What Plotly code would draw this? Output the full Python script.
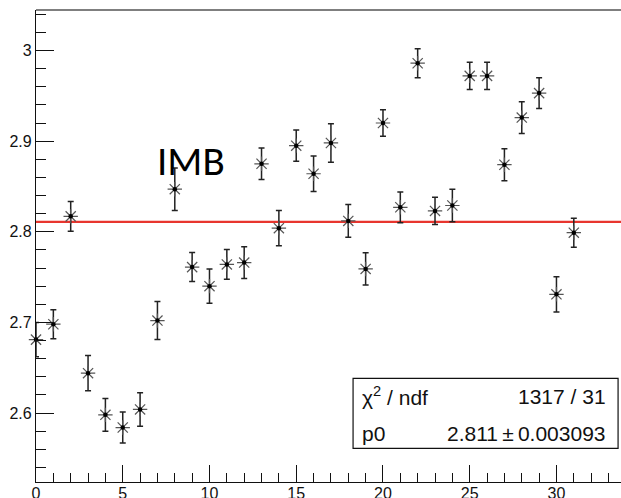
import plotly.graph_objects as go

# Data
x_vals = list(range(32))
y_vals = [2.681, 2.698, 2.817, 2.644, 2.598, 2.584, 2.604, 2.702, 2.847, 2.761,
          2.740, 2.764, 2.766, 2.875, 2.804, 2.895, 2.864, 2.898, 2.812, 2.759,
          2.920, 2.827, 2.986, 2.823, 2.829, 2.972, 2.972, 2.874, 2.926, 2.953,
          2.731, 2.799]
y_errs = [0.019, 0.016, 0.0165, 0.0195, 0.018, 0.017, 0.0185, 0.021, 0.0234, 0.016,
          0.019, 0.0165, 0.0175, 0.0173, 0.0195, 0.0173, 0.0195, 0.0213, 0.018, 0.0178,
          0.0145, 0.017, 0.016, 0.015, 0.018, 0.015, 0.015, 0.0176, 0.0175, 0.017,
          0.0195, 0.016]
fit_p0 = 2.811
fit_p0_err = 0.003093
chi2_text = "1317 / 31"
label_text = "IMB"

x_range = [0, 33.72]
y_range = [2.5239, 3.0447]

SANS = "Liberation Sans Narrow, Arial Narrow, Liberation Sans, Arial, sans-serif"

fig = go.Figure()

# fit line
fig.add_trace(go.Scatter(
    x=x_range, y=[fit_p0, fit_p0], mode="lines",
    line=dict(color="#e8352e", width=2.2), hoverinfo="skip", showlegend=False,
))

# data points with error bars (asterisk)
fig.add_trace(go.Scatter(
    x=x_vals, y=y_vals, mode="markers",
    marker=dict(symbol="asterisk-open", size=12, color="#555555",
                line=dict(color="#555555", width=1.2)),
    error_y=dict(type="data", array=y_errs, visible=True, color="#222222",
                 thickness=1.5, width=3),
    cliponaxis=False, showlegend=False,
))
# center dots
fig.add_trace(go.Scatter(
    x=x_vals, y=y_vals, mode="markers",
    marker=dict(symbol="circle", size=4.5, color="#000000"),
    cliponaxis=False, showlegend=False,
))

axis_common = dict(
    showgrid=False, zeroline=False, showline=True, linecolor="#111111", linewidth=1.2,
    ticks="inside", tickcolor="#111111", tickwidth=1.2, automargin=False,
    tickfont=dict(family=SANS, size=16, color="#111111"),
)

fig.update_xaxes(range=x_range, tick0=0, dtick=5, ticklen=17, ticklabelstandoff=-3,
                 minor=dict(ticks="inside", dtick=1, ticklen=9, tickcolor="#111111", tickwidth=1.2),
                 **axis_common)
fig.update_yaxes(range=y_range, tick0=2.6, dtick=0.1, ticklen=18,
                 minor=dict(ticks="inside", dtick=0.02, ticklen=10, tickcolor="#111111", tickwidth=1.2),
                 **axis_common)

shapes = [
    # top frame line
    dict(type="line", xref="paper", yref="paper", x0=0, x1=1, y0=1, y1=1,
         line=dict(color="#555555", width=1.5)),
    # stats box
    dict(type="rect", xref="paper", yref="paper", x0=0.542, x1=0.995, y0=0.0714, y1=0.2196,
         line=dict(color="#111111", width=1.2), fillcolor="white"),
]

annotations = [
    dict(text=label_text, x=8.93, y=2.878, xref="x", yref="y", showarrow=False,
         xanchor="center", yanchor="middle",
         font=dict(family="Carlito, Calibri, Noto Sans, sans-serif", size=41, color="#000000")),
    dict(text="χ<sup>2</sup> / ndf", x=0.553, y=0.182, xref="paper", yref="paper",
         showarrow=False, xanchor="left", yanchor="middle",
         font=dict(family=SANS, size=21, color="#111111")),
    dict(text=chi2_text, x=0.978, y=0.182, xref="paper", yref="paper",
         showarrow=False, xanchor="right", yanchor="middle",
         font=dict(family=SANS, size=21, color="#111111")),
    dict(text="p0", x=0.553, y=0.103, xref="paper", yref="paper",
         showarrow=False, xanchor="left", yanchor="middle",
         font=dict(family=SANS, size=21, color="#111111")),
    dict(text=f"{fit_p0:.3f}\u2009±\u2009{fit_p0_err:.6f}", x=0.978, y=0.103,
         xref="paper", yref="paper",
         showarrow=False, xanchor="right", yanchor="middle",
         font=dict(family=SANS, size=21, color="#111111")),
]

fig.update_layout(
    width=621, height=498,
    margin=dict(l=36, r=0, t=10, b=16, pad=0),
    paper_bgcolor="white", plot_bgcolor="white",
    shapes=shapes, annotations=annotations,
    showlegend=False,
)

fig.write_html("out.html")
